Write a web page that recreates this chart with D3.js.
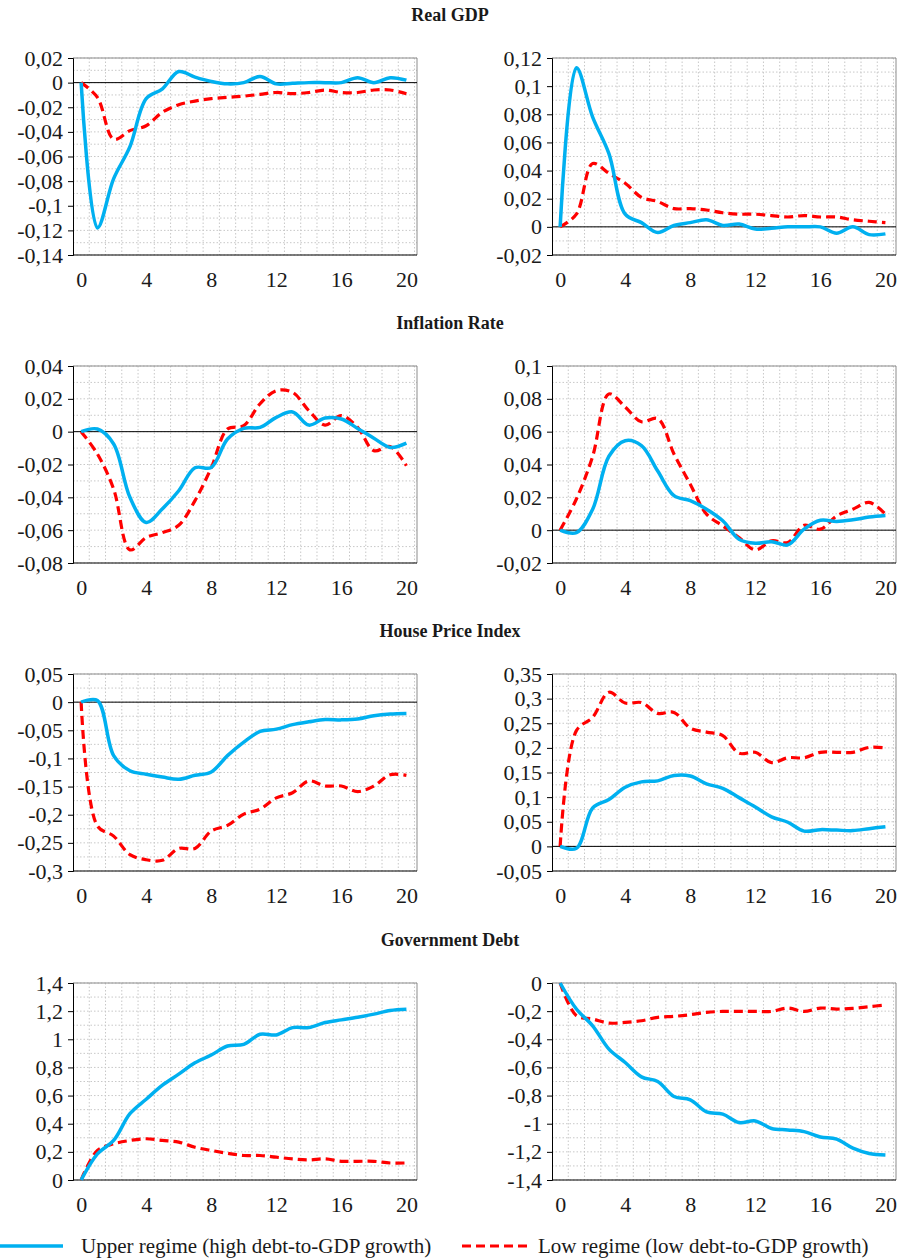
<!DOCTYPE html>
<html>
<head>
<meta charset="utf-8">
<script src="https://cdn.jsdelivr.net/npm/d3@7"></script>
<style>
  body { margin: 0; background: #fff; }
  text { font-family: "Liberation Serif", "Times New Roman", serif; fill: #1a1a1a; }
  .title { font-weight: bold; font-size: 18px; }
  .tick text { font-size: 22px; font-family: "Liberation Serif", serif; }
  .legend text { font-size: 21px; }
</style>
</head>
<body>
<script>
// horizons 0..20
var horizon = d3.range(0, 21);

var titles = ["Real GDP", "Inflation Rate", "House Price Index", "Government Debt"];

// Real GDP
var gdpUpperL = [0, -0.118, -0.078, -0.052, -0.013, -0.005, 0.009, 0.0045, 0.001, -0.001, 0, 0.005, -0.001, -0.0005, 0, 0, 0, 0.004, 0, 0.004, 0.002];
var gdpLowL   = [0, -0.012, -0.046, -0.039, -0.035, -0.024, -0.018, -0.015, -0.013, -0.012, -0.011, -0.0095, -0.008, -0.009, -0.008, -0.006, -0.008, -0.008, -0.006, -0.006, -0.009];
var gdpUpperR = [0, 0.113, 0.078, 0.052, 0.009, 0.003, -0.004, 0.001, 0.003, 0.005, 0.001, 0.002, -0.0015, -0.001, 0, 0, 0, -0.0045, 0, -0.0055, -0.005];
var gdpLowR   = [0, 0.009, 0.045, 0.038, 0.031, 0.021, 0.018, 0.013, 0.013, 0.012, 0.010, 0.009, 0.009, 0.008, 0.007, 0.008, 0.007, 0.007, 0.005, 0.004, 0.003];

// Inflation rate
var infUpperL = [0, 0.0016, -0.0075, -0.040, -0.0553, -0.047, -0.036, -0.022, -0.0218, -0.0045, 0.002, 0.0026, 0.0087, 0.012, 0.004, 0.0083, 0.0077, 0.002, -0.004, -0.0096, -0.007];
var infLowL   = [0, -0.0136, -0.035, -0.072, -0.0645, -0.0615, -0.057, -0.042, -0.022, 0.0016, 0.0037, 0.017, 0.025, 0.024, 0.0128, 0.004, 0.0098, 0.0026, -0.0116, -0.009, -0.0208];
var infUpperR = [0, -0.0015, 0.0128, 0.045, 0.0545, 0.0515, 0.036, 0.021, 0.018, 0.0128, 0.0057, -0.0055, -0.008, -0.007, -0.009, 0.0006, 0.006, 0.0053, 0.0063, 0.008, 0.009];
var infLowR   = [0, 0.019, 0.045, 0.083, 0.075, 0.066, 0.068, 0.0464, 0.028, 0.0098, 0.0026, -0.0045, -0.012, -0.0065, -0.0075, 0.003, 0.0006, 0.0087, 0.0128, 0.0169, 0.0098];

// House price index
var hpiUpperL = [0, 0.003, -0.095, -0.122, -0.128, -0.133, -0.137, -0.130, -0.124, -0.095, -0.071, -0.052, -0.048, -0.040, -0.035, -0.031, -0.0315, -0.030, -0.024, -0.021, -0.020];
var hpiLowL   = [0, -0.22, -0.238, -0.271, -0.280, -0.281, -0.260, -0.260, -0.229, -0.219, -0.199, -0.19, -0.170, -0.161, -0.140, -0.149, -0.149, -0.159, -0.149, -0.129, -0.130];
var hpiUpperR = [0, -0.004, 0.078, 0.095, 0.12, 0.131, 0.133, 0.144, 0.143, 0.127, 0.118, 0.099, 0.080, 0.060, 0.049, 0.031, 0.034, 0.033, 0.032, 0.036, 0.040];
var hpiLowR   = [0, 0.235, 0.262, 0.313, 0.291, 0.292, 0.270, 0.272, 0.240, 0.232, 0.225, 0.189, 0.191, 0.170, 0.180, 0.180, 0.191, 0.191, 0.191, 0.201, 0.200];

// Government debt
var debtUpperL = [0, 0.186, 0.281, 0.471, 0.574, 0.674, 0.752, 0.833, 0.888, 0.952, 0.964, 1.036, 1.031, 1.083, 1.083, 1.119, 1.138, 1.157, 1.179, 1.205, 1.214];
var debtLowL   = [0, 0.21, 0.257, 0.281, 0.293, 0.281, 0.269, 0.233, 0.21, 0.19, 0.174, 0.174, 0.162, 0.15, 0.143, 0.15, 0.133, 0.133, 0.133, 0.121, 0.121];
var debtUpperR = [0, -0.185, -0.304, -0.47, -0.565, -0.667, -0.70, -0.807, -0.83, -0.916, -0.932, -0.992, -0.98, -1.034, -1.044, -1.056, -1.094, -1.11, -1.174, -1.212, -1.222];
var debtLowR   = [0, -0.232, -0.256, -0.285, -0.28, -0.268, -0.244, -0.237, -0.225, -0.209, -0.202, -0.202, -0.202, -0.202, -0.178, -0.202, -0.178, -0.185, -0.18, -0.168, -0.157];

// y axis ranges [min, max, step]
var yRanges = [
  [-0.14, 0.02, 0.02], [-0.02, 0.12, 0.02],
  [-0.08, 0.04, 0.02], [-0.02, 0.1, 0.02],
  [-0.3, 0.05, 0.05], [-0.05, 0.35, 0.05],
  [0, 1.4, 0.2], [-1.4, 0, 0.2]
];
var xTicks = [0, 4, 8, 12, 16, 20];

var upperSeries = [gdpUpperL, gdpUpperR, infUpperL, infUpperR, hpiUpperL, hpiUpperR, debtUpperL, debtUpperR];
var lowSeries = [gdpLowL, gdpLowR, infLowL, infLowR, hpiLowL, hpiLowR, debtLowL, debtLowR];

var blue = '#00b0f0', red = '#ff0000';
var rowTop = [58, 366, 674, 983];
var plotH = 197;
var colLeft = [73, 552];
var colRight = [417, 896];

var svg = d3.select('body').append('svg')
  .attr('width', 900)
  .attr('height', 1258);

var fmt = function(d) {
  var v = +d.toFixed(2);
  return String(v).replace('.', ',');
};

titles.forEach(function(t, r) {
  svg.append('text')
    .attr('class', 'title')
    .attr('x', 450)
    .attr('y', rowTop[r] - 37)
    .attr('text-anchor', 'middle')
    .text(t);
});

upperSeries.forEach(function(up, i) {
  var r = Math.floor(i / 2), c = i % 2;
  var yr = yRanges[i];
  var left = colLeft[c], right = colRight[c];
  var top = rowTop[r], bottom = top + plotH;

  var x = d3.scaleLinear().domain([-0.5, 20.65]).range([left, right]);
  var y = d3.scaleLinear().domain([yr[0], yr[1]]).range([bottom, top]);

  var g = svg.append('g');

  // dotted grid
  var minor = d3.range(yr[0], yr[1] + yr[2] / 4, yr[2] / 2);
  g.selectAll('.hgrid').data(minor).enter().append('line')
    .attr('x1', left).attr('x2', right)
    .attr('y1', function(d) { return y(d); })
    .attr('y2', function(d) { return y(d); })
    .attr('stroke', '#c8c8c8').attr('stroke-dasharray', '1.5,2');
  g.selectAll('.vgrid').data(d3.range(0, 21)).enter().append('line')
    .attr('x1', function(d) { return x(d + 0.5); })
    .attr('x2', function(d) { return x(d + 0.5); })
    .attr('y1', top).attr('y2', bottom)
    .attr('stroke', '#c8c8c8').attr('stroke-dasharray', '1.5,2');

  // frame top/right
  g.append('path')
    .attr('d', 'M' + left + ',' + top + 'H' + right + 'V' + bottom)
    .attr('fill', 'none').attr('stroke', '#8c8c8c');

  // zero line
  if (yr[0] < 0 && yr[1] > 0) {
    g.append('line')
      .attr('x1', left).attr('x2', right)
      .attr('y1', y(0)).attr('y2', y(0))
      .attr('stroke', '#000');
  }

  // y axis
  var ticks = d3.range(yr[0], yr[1] + yr[2] / 2, yr[2]);
  var yAxis = d3.axisLeft(y).tickValues(ticks).tickFormat(fmt).tickSize(5).tickPadding(5);
  g.append('g')
    .attr('transform', 'translate(' + left + ',0)')
    .call(yAxis)
    .call(function(a) {
      a.attr('font-family', null).attr('font-size', null);
      a.selectAll('path, line').attr('stroke', '#000');
      a.selectAll('text').attr('fill', '#1a1a1a');
    });

  // x axis
  var xAxis = d3.axisBottom(x).tickValues(xTicks).tickSize(0).tickPadding(16).tickFormat(d3.format('d'));
  g.append('g')
    .attr('transform', 'translate(0,' + bottom + ')')
    .call(xAxis)
    .call(function(a) {
      a.attr('font-family', null).attr('font-size', null);
      a.select('.domain').attr('stroke', '#000').attr('d', 'M' + left + ',0H' + right);
      a.selectAll('text').attr('fill', '#1a1a1a');
    });

  var line = d3.line()
    .x(function(d, k) { return x(horizon[k]); })
    .y(function(d) { return y(d); })
    .curve(d3.curveCatmullRom.alpha(0.5));

  g.append('path').datum(lowSeries[i])
    .attr('d', line)
    .attr('fill', 'none').attr('stroke', red)
    .attr('stroke-width', 3.2).attr('stroke-dasharray', '9,5');

  g.append('path').datum(up)
    .attr('d', line)
    .attr('fill', 'none').attr('stroke', blue)
    .attr('stroke-width', 3.5);
});

// legend
var lg = svg.append('g').attr('class', 'legend');
lg.append('line').attr('x1', 0).attr('x2', 63).attr('y1', 1246).attr('y2', 1246)
  .attr('stroke', blue).attr('stroke-width', 3.5);
lg.append('text').attr('x', 81).attr('y', 1253).text('Upper regime (high debt-to-GDP growth)');
lg.append('line').attr('x1', 462).attr('x2', 528).attr('y1', 1246).attr('y2', 1246)
  .attr('stroke', red).attr('stroke-width', 3.2).attr('stroke-dasharray', '9,5');
lg.append('text').attr('x', 538).attr('y', 1253).text('Low regime (low debt-to-GDP growth)');
</script>
</body>
</html>
